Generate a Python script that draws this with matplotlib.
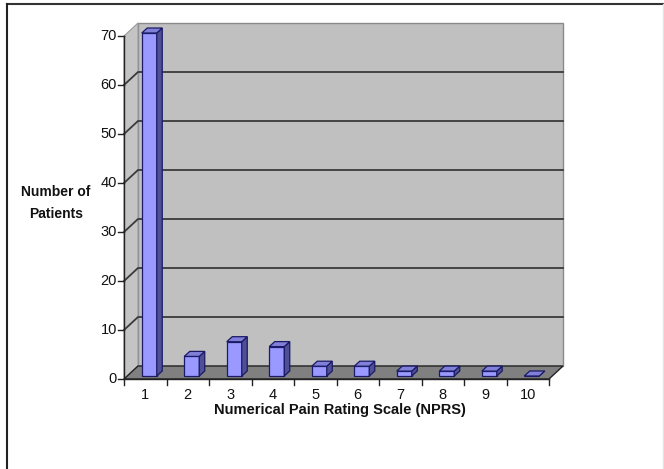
import matplotlib
matplotlib.use("Agg")
import matplotlib.pyplot as plt
from matplotlib.patches import Polygon
from matplotlib.lines import Line2D

# Survey results: number of patients at each pain rating
ratings = ["1", "2", "3", "4", "5", "6", "7", "8", "9", "10"]
patients = [70, 4, 7, 6, 2, 2, 1, 1, 1, 0]
y_ticks = [0, 10, 20, 30, 40, 50, 60, 70]

W, H = 664, 469
fig = plt.figure(figsize=(W / 100, H / 100), dpi=100)
fig.patch.set_facecolor("white")

plt.rcParams["font.family"] = ["Liberation Sans Narrow", "Liberation Sans", "DejaVu Sans"]

# front plane of the plot in pixels
left_px, right_px = 124, 549
bottom_px, top_px = 379, 36
ax = fig.add_axes([left_px / W, (H - bottom_px) / H,
                   (right_px - left_px) / W, (bottom_px - top_px) / H])
n = len(ratings)
ymax = 70
ax.set_xlim(0.5, n + 0.5)
ax.set_ylim(0, ymax)
ax.axis("off")

sx = (right_px - left_px) / n          # pixels per category
sy = (bottom_px - top_px) / ymax       # pixels per unit


def pt(x, y, dx=0.0, dy=0.0):
    """data point shifted by a pixel offset (depth)"""
    return (x + dx / sx, y + dy / sy)


def poly(pts, **kw):
    ax.add_patch(Polygon(pts, closed=True, clip_on=False, **kw))


DX, DY = 14, 13   # wall depth in pixels
x0, x1 = 0.5, n + 0.5

# back wall
poly([pt(x0, 0, DX, DY), pt(x1, 0, DX, DY), pt(x1, ymax, DX, DY), pt(x0, ymax, DX, DY)],
     facecolor="#c0c0c0", edgecolor="#8a8a8a", lw=1.0, zorder=1)
# side wall
poly([pt(x0, 0), pt(x0, 0, DX, DY), pt(x0, ymax, DX, DY), pt(x0, ymax)],
     facecolor="#c4c4c4", edgecolor="#9a9a9a", lw=0.8, zorder=1)
# floor
poly([pt(x0, 0), pt(x1, 0), pt(x1, 0, DX, DY), pt(x0, 0, DX, DY)],
     facecolor="#808080", edgecolor="#222222", lw=1.0, zorder=2)

# gridlines across the walls
for t in y_ticks[1:-1]:
    a, b = pt(x0, t), pt(x0, t, DX, DY)
    c = pt(x1, t, DX, DY)
    ax.add_line(Line2D([a[0], b[0], c[0]], [a[1], b[1], c[1]], color="#3a3a3a",
                       lw=1.3, clip_on=False, zorder=2))

# axes lines and tick marks
ax.add_line(Line2D([x0, x0], [0, ymax], color="#222222", lw=1.0, clip_on=False, zorder=3))
ax.add_line(Line2D([x0, x1], [0, 0], color="#222222", lw=1.0, clip_on=False, zorder=3))
for t in y_ticks:
    a = pt(x0, t, -6, 0)
    ax.add_line(Line2D([a[0], x0], [t, t], color="#222222", lw=1.0, clip_on=False, zorder=3))
    ax.text(a[0] - 1.0 / sx, t, str(t), ha="right", va="center", fontsize=10.5,
            color="#111111")
for i in range(n + 1):
    xb = 0.5 + i
    a = pt(xb, 0, 0, -6)
    ax.add_line(Line2D([xb, xb], [0, a[1]], color="#222222", lw=1.0, clip_on=False, zorder=3))
for i, lab in enumerate(ratings):
    ax.text(i + 1, pt(0, 0, 0, -16)[1], lab, ha="center", va="center", fontsize=10.5,
            color="#111111")

# 3D columns
bw = 15 / sx           # bar width in data units
BX, BY = 4.0, 3.0      # bar offset into the floor
DDX, DDY = 5.5, 5.0    # bar depth
front_c, top_c, side_c, edge_c = "#9999ff", "#8080d8", "#4f4f96", "#1a1a66"
for i, v in enumerate(patients):
    xc = i + 1
    xl, xr = xc - bw / 2, xc + bw / 2
    # front face
    poly([pt(xl, 0, BX, BY), pt(xr, 0, BX, BY), pt(xr, v, BX, BY), pt(xl, v, BX, BY)],
         facecolor=front_c, edgecolor=edge_c, lw=0.9, zorder=4)
    # side face
    poly([pt(xr, 0, BX, BY), pt(xr, 0, BX + DDX, BY + DDY),
          pt(xr, v, BX + DDX, BY + DDY), pt(xr, v, BX, BY)],
         facecolor=side_c, edgecolor=edge_c, lw=0.9, zorder=4)
    # top face
    poly([pt(xl, v, BX, BY), pt(xr, v, BX, BY),
          pt(xr, v, BX + DDX, BY + DDY), pt(xl, v, BX + DDX, BY + DDY)],
         facecolor=top_c, edgecolor=edge_c, lw=0.9, zorder=5)

# axis titles
fig.text(56 / W, 1 - 203 / H, "Number of\nPatients", ha="center", va="center",
         fontsize=10, fontweight="bold", linespacing=1.75, color="#111111")
fig.text(340 / W, 1 - 410 / H, "Numerical Pain Rating Scale (NPRS)", ha="center",
         va="center", fontsize=10.5, fontweight="bold", color="#111111")

# outer frame
fig.add_artist(Line2D([7 / W, 1.0], [1 - 4.5 / H, 1 - 4.5 / H], transform=fig.transFigure,
                      color="#333333", lw=1.5))
fig.add_artist(Line2D([7 / W, 7 / W], [0, 1 - 4.5 / H], transform=fig.transFigure,
                      color="#222222", lw=1.5))
fig.add_artist(Line2D([662.5 / W, 662.5 / W], [0, 1 - 4.5 / H], transform=fig.transFigure,
                      color="#e4e4e4", lw=1.0))

fig.savefig("out.png", dpi=100, facecolor="white")
